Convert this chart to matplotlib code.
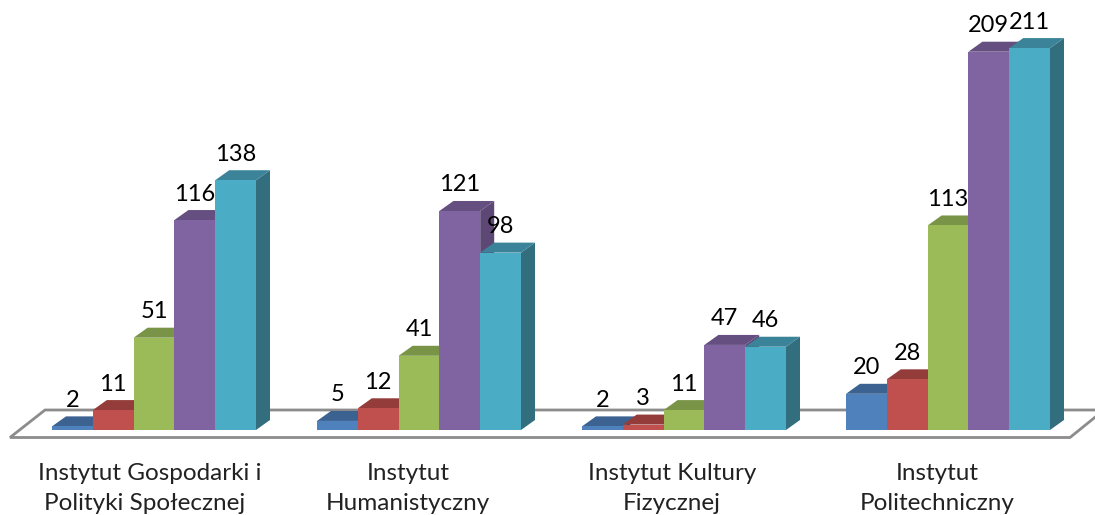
#!/usr/bin/env python3
"""Wykres slupkowy 3D - instytuty, piec serii."""
import matplotlib
matplotlib.use('Agg')
import matplotlib.pyplot as plt
from matplotlib.patches import Polygon

plt.rcParams['font.family'] = ['Lato', 'DejaVu Sans']

labels = [['Instytut Gospodarki i', 'Polityki Społecznej'],
          ['Instytut', 'Humanistyczny'],
          ['Instytut Kultury', 'Fizycznej'],
          ['Instytut', 'Politechniczny']]
series1 = [2, 5, 2, 20]
series2 = [11, 12, 3, 28]
series3 = [51, 41, 11, 113]
series4 = [116, 121, 47, 209]
series5 = [138, 98, 46, 211]
series = [series1, series2, series3, series4, series5]

front = ['#4F81BD', '#C0504D', '#9BBB59', '#8064A2', '#4BACC6']
top = ['#3C6291', '#933C3A', '#7A9447', '#654F80', '#3A8399']
side = ['#33557E', '#803432', '#66793A', '#5C4775', '#336E7E']

W, H = 1095, 515
BASE = 430      # y piksela dla wartosci 0
PX = 1.81       # pikseli na jednostke
BAR_W = 40.8
DX, DY = 14, 10
group_x = [52, 317, 582, 846]
label_x = [[150, 145], [408, 408], [672, 672], [937, 937]]

fig = plt.figure(figsize=(W / 100, H / 100), dpi=100)
ax = fig.add_axes([0, 0, 1, 1])
ax.set_xlim(0, W)
ax.set_ylim(-(H - BASE) / PX, BASE / PX)
ax.axis('off')

dy = DY / PX

# podloga
floor = Polygon([(10, -7.5 / PX), (45, 20 / PX), (1104, 20 / PX), (1070, -7.5 / PX)],
                closed=True, fc='white', ec='#8C8C8C', lw=2.0, zorder=1)
ax.add_patch(floor)

for g, x0 in enumerate(group_x):
    for s, vals in enumerate(series):
        v = vals[g]
        x = x0 + s * BAR_W
        z = 2 + s
        ax.add_patch(Polygon([(x + BAR_W, 0), (x + BAR_W + DX, dy), (x + BAR_W + DX, v + dy), (x + BAR_W, v)],
                             closed=True, fc=side[s], ec='none', zorder=z))
        ax.add_patch(Polygon([(x, v), (x + DX, v + dy), (x + BAR_W + DX, v + dy), (x + BAR_W, v)],
                             closed=True, fc=top[s], ec='none', zorder=z))
        ax.bar(x, v, width=BAR_W, align='edge', color=front[s], zorder=z + 0.5)
        ax.text(x + BAR_W / 2, v + 26 / PX, str(v), ha='center', va='center',
                fontsize=17, color='black', zorder=20)

for g, lines in enumerate(labels):
    ax.text(label_x[g][0], -43 / PX, lines[0], ha='center', va='center', fontsize=17.5, color='#222222')
    ax.text(label_x[g][1], -73 / PX, lines[1], ha='center', va='center', fontsize=17.5, color='#222222')

fig.savefig('out.png', dpi=100)
